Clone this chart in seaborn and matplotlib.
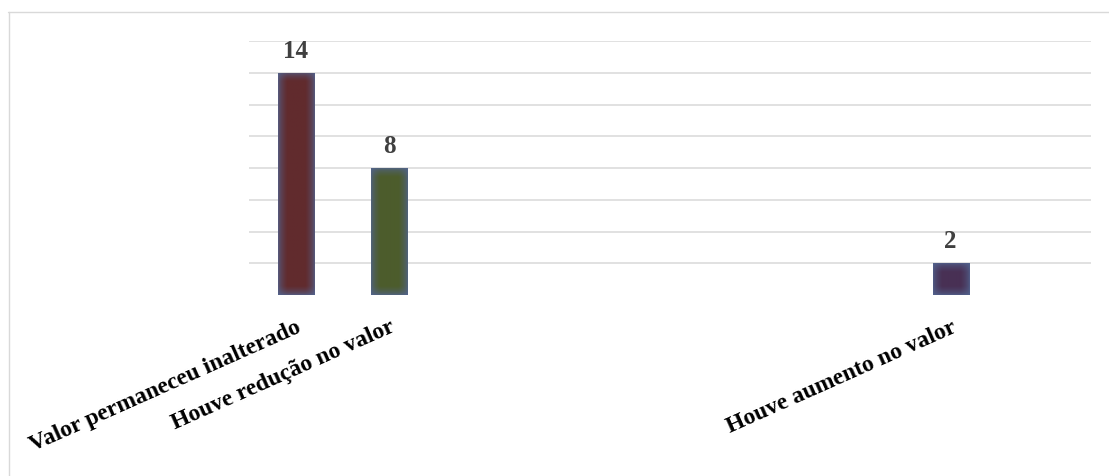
import numpy as np
import pandas as pd
import matplotlib
matplotlib.use("Agg")
import matplotlib.pyplot as plt
from matplotlib.colors import to_rgb
from matplotlib.lines import Line2D
import seaborn as sns

# Survey answers; the empty slots are blank categories of the source sheet
categories = [
    "Valor permaneceu inalterado",
    "Houve redução no valor",
    "", "", "", "", "",
    "Houve aumento no valor",
    "",
]
counts = [14, 8, np.nan, np.nan, np.nan, np.nan, np.nan, 2, np.nan]
core_colors = ["#6a2226", "#4f6424", "#ffffff", "#ffffff", "#ffffff",
               "#ffffff", "#ffffff", "#4a2a5a", "#ffffff"]
rim_color = "#52648f"

sns.set_theme(style="white")
plt.rcParams["font.family"] = ["Liberation Serif", "DejaVu Serif"]

df = pd.DataFrame({"slot": list(range(len(categories))), "count": counts})

fig = plt.figure(figsize=(11.09, 4.77), dpi=100)
W, H = 1109, 477
ax = fig.add_axes([249 / W, 1 - 296 / H, (1091 - 249) / W, (296 - 42) / H])

sns.barplot(data=df, x="slot", y="count", hue="slot", palette=core_colors,
            order=list(range(len(categories))), legend=False, width=0.385,
            edgecolor="#aab4d0", linewidth=0.5, ax=ax, zorder=3)

ax.set_xlim(-0.5, len(categories) - 0.5)
ax.set_ylim(0, 16)
ax.set_yticks(range(2, 17, 2))
ax.set_yticklabels([])
ax.yaxis.grid(True, color="#d9d9d9", linewidth=1.1)
ax.set_axisbelow(True)
for s in ax.spines.values():
    s.set_visible(False)
ax.tick_params(axis="both", length=0)
ax.set_xlabel("")
ax.set_ylabel("")

ax.set_xticks(range(len(categories)))
ax.set_xticklabels(categories, rotation=24, ha="right", va="top",
                   rotation_mode="anchor", fontsize=17, fontweight="bold",
                   color="#000000")
ax.tick_params(axis="x", pad=15)

# soft bluish rim shading inside each bar
soft = 9.0
for patch in ax.patches:
    h = patch.get_height()
    if not np.isfinite(h) or h <= 0:
        continue
    x0, y0, w = patch.get_x(), patch.get_y(), patch.get_width()
    (px0, py0), (px1, py1) = ax.transData.transform([(x0, y0), (x0 + w, y0 + h)])
    nw, nh = max(int(round(px1 - px0)), 2), max(int(round(py1 - py0)), 2)
    gx = np.arange(nw) + 0.5
    gy = np.arange(nh) + 0.5
    dx = np.clip(np.minimum(gx, nw - gx) / soft, 0, 1)[None, :]
    dy = np.clip(np.minimum(gy, nh - gy) / soft, 0, 1)[:, None]
    t = np.sqrt(dx * dy)
    core = np.array(to_rgb(patch.get_facecolor()))
    rim = np.array(to_rgb(rim_color))
    img = rim[None, None, :] * (1 - t[..., None]) + core[None, None, :] * t[..., None]
    im = ax.imshow(img, extent=(x0, x0 + w, y0, y0 + h), origin="lower",
                   aspect="auto", interpolation="bilinear", zorder=4)
    im.set_clip_path(patch)

ax.set_xlim(-0.5, len(categories) - 0.5)
ax.set_ylim(0, 16)

# value labels above the bars
for cont in ax.containers:
    vals = [p.get_height() for p in cont.patches]
    labels = [f"{v:.0f}" if np.isfinite(v) and v > 0 else "" for v in vals]
    ax.bar_label(cont, labels=labels, padding=8, fontsize=18,
                 fontweight="bold", color="#404040", zorder=5)

# outer chart frame (top and left edges)
frame_kw = dict(color="#d9d9d9", linewidth=1.0, transform=fig.transFigure)
fig.add_artist(Line2D([8 / W, 1.0], [1 - 13 / H, 1 - 13 / H], **frame_kw))
fig.add_artist(Line2D([9 / W, 9 / W], [1 - 13 / H, 0.0], **frame_kw))

fig.savefig("out.png", dpi=100, facecolor="white")
